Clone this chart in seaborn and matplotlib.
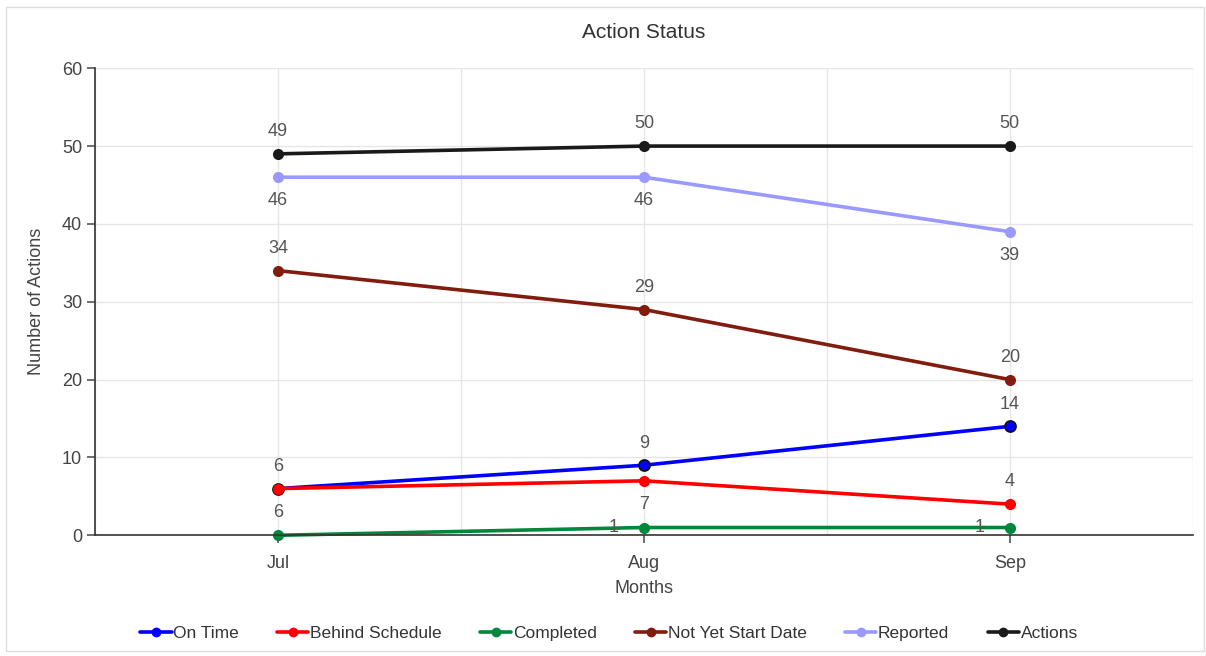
import numpy as np
import pandas as pd
import matplotlib.pyplot as plt
import seaborn as sns
from matplotlib.patches import Rectangle
from matplotlib.lines import Line2D

months = ["Jul", "Aug", "Sep"]
on_time = [6, 9, 14]
behind_schedule = [6, 7, 4]
completed = [0, 1, 1]
not_yet_start = [34, 29, 20]
reported = [46, 46, 39]
actions = [49, 50, 50]

series = {
    "On Time": on_time,
    "Behind Schedule": behind_schedule,
    "Completed": completed,
    "Not Yet Start Date": not_yet_start,
    "Reported": reported,
    "Actions": actions,
}
colors = {
    "On Time": "#0000ff",
    "Behind Schedule": "#ff0000",
    "Completed": "#00873c",
    "Not Yet Start Date": "#821c0f",
    "Reported": "#9999ff",
    "Actions": "#1a1a1a",
}
# where each data label sits relative to its point
label_pos = {
    "On Time": ["up", "up", "up"],
    "Behind Schedule": ["down", "down", "up"],
    "Completed": [None, "left", "left"],
    "Not Yet Start Date": ["up", "up", "up"],
    "Reported": ["down", "down", "down"],
    "Actions": ["up", "up", "up"],
}
offsets = {"up": (0, 16), "down": (0, -17), "left": (-22, 0)}

rows = []
for name, vals in series.items():
    for i, v in enumerate(vals):
        rows.append({"Month": months[i], "x": i, "Series": name, "Value": v})
df = pd.DataFrame(rows)

sns.set_theme(style="white")
plt.rcParams["font.family"] = ["Liberation Sans", "DejaVu Sans"]

fig = plt.figure(figsize=(12.06, 6.56), dpi=100)
ax = fig.add_axes([0.079, 0.184, 0.910, 0.712])

sns.lineplot(data=df, x="x", y="Value", hue="Series", hue_order=list(series),
             palette=colors, marker="o", markersize=8, linewidth=2.6,
             markeredgewidth=0, legend=False, ax=ax)
for line in ax.lines:
    line.set_clip_on(False)
    # On Time markers have a dark edge
    if line.get_color() == colors["On Time"]:
        line.set_markeredgecolor("#111111")
        line.set_markeredgewidth(1.2)

text_c = "#555555"
for name, vals in series.items():
    for i, v in enumerate(vals):
        pos = label_pos[name][i]
        if pos is None:
            continue
        dx, dy = offsets[pos]
        ax.annotate(str(v), (i, v), xytext=(dx, dy), textcoords="offset points",
                    ha="center", va="center", fontsize=13, color=text_c)

ax.set_xlim(-0.5, 2.5)
ax.set_ylim(0, 60)
ax.set_yticks(np.arange(0, 61, 10))
ax.set_xticks(range(len(months)))
ax.set_xticklabels(months)
ax.set_xticks([-0.5, 0.5, 1.5, 2.5], minor=True)
ax.grid(True, which="both", color="#e6e6e6", linewidth=1)
ax.set_axisbelow(True)
for s in ["top", "right"]:
    ax.spines[s].set_visible(False)
for s in ["left", "bottom"]:
    ax.spines[s].set_color("#333333")
    ax.spines[s].set_linewidth(1.2)
ax.tick_params(axis="both", which="major", labelsize=13, colors=text_c,
               length=6, width=1.2, direction="out", bottom=True, left=True)
ax.tick_params(axis="x", which="major", pad=8)
ax.tick_params(axis="x", which="minor", length=0)
for lbl in ax.get_xticklabels() + ax.get_yticklabels():
    lbl.set_color("#444444")

ax.set_xlabel("Months", fontsize=13, color="#444444", labelpad=6)
ax.set_ylabel("Number of Actions", fontsize=13, color="#444444", labelpad=12)
ax.set_title("Action Status", fontsize=15, color="#333333", pad=22)

handles = [Line2D([0], [0], color=colors[n], lw=2.6, marker="o", markersize=6)
           for n in series]
fig.legend(handles, list(series), loc="center", bbox_to_anchor=(0.505, 0.035),
           ncol=6, frameon=False, fontsize=12.5, handlelength=1.8,
           handletextpad=0.1, columnspacing=2.2, labelcolor="#333333")

fig.patches.append(Rectangle((0.005, 0.008), 0.993, 0.982, transform=fig.transFigure,
                             fill=False, edgecolor="#dddddd", linewidth=1))

fig.savefig("out.png", dpi=100)
